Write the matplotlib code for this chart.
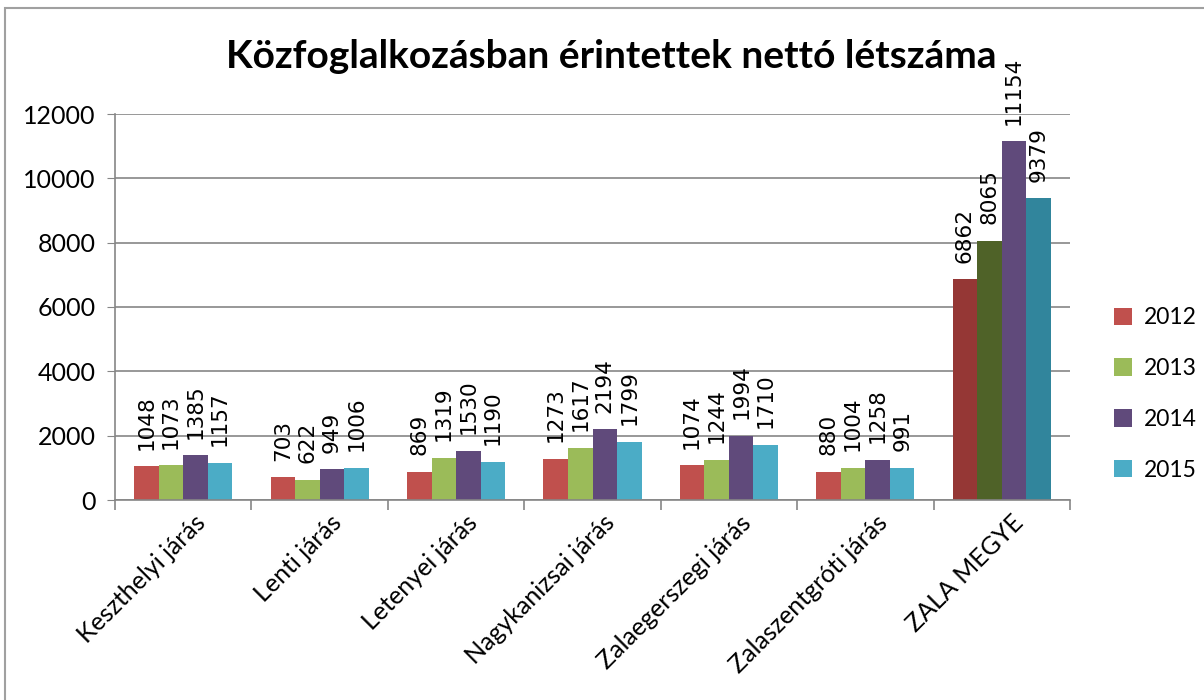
import matplotlib
matplotlib.use("Agg")
import matplotlib.pyplot as plt
from matplotlib.patches import Rectangle
import matplotlib.transforms as mtransforms
import numpy as np

categories = ["Keszthelyi járás", "Lenti járás", "Letenyei járás", "Nagykanizsai járás",
              "Zalaegerszegi járás", "Zalaszentgróti járás", "ZALA MEGYE"]
years = ["2012", "2013", "2014", "2015"]
v2012 = [1048, 703, 869, 1273, 1074, 880, 6862]
v2013 = [1073, 622, 1319, 1617, 1244, 1004, 8065]
v2014 = [1385, 949, 1530, 2194, 1994, 1258, 11154]
v2015 = [1157, 1006, 1190, 1799, 1710, 991, 9379]
series = [v2012, v2013, v2014, v2015]

colors = ["#C0504D", "#9BBB59", "#604A7B", "#4BACC6"]
dark_colors = ["#953735", "#4F6228", "#604A7B", "#31859C"]

fig = plt.figure(figsize=(12.04, 7.0), dpi=100)
fig.patches.append(Rectangle((5/1204, -0.01), 1.1, 1 - 8/700 + 0.01, transform=fig.transFigure,
                             fill=False, edgecolor="#A0A0A0", linewidth=1.5))
ax = fig.add_axes([115/1204, 200/700, 955/1204, 386/700])

x = np.arange(len(categories))
w = 0.18
font = "Lato"
for i, vals in enumerate(series):
    pos = x + (i - 1.5) * w
    cols = [colors[i]] * (len(categories) - 1) + [dark_colors[i]]
    ax.bar(pos, vals, width=w, color=cols, label=years[i], zorder=2)
    for px, v in zip(pos, vals):
        ax.annotate(str(v), (px, v), xytext=(0, 12), textcoords="offset points",
                    rotation=90, ha="center", va="bottom", fontsize=15.5,
                    family="DejaVu Sans", annotation_clip=False)

ax.set_xlim(-0.5, len(categories) - 0.5)
ax.set_ylim(0, 12000)
ax.set_yticks(range(0, 12001, 2000))
ax.tick_params(axis="y", labelsize=18, length=6, color="#868686", direction="out", pad=8)
for lab in ax.get_yticklabels():
    lab.set_family(font)
ax.yaxis.grid(True, color="#868686", linewidth=1.2, zorder=0)
ax.set_axisbelow(True)

ax.set_xticks(x)
ax.set_xticklabels(categories, rotation=45, ha="right", rotation_mode="anchor",
                   fontsize=18, family=font)
ax.tick_params(axis="x", length=0, pad=8)
shift = mtransforms.ScaledTranslation(10/100, 0, fig.dpi_scale_trans)
for lab in ax.get_xticklabels():
    lab.set_transform(lab.get_transform() + shift)
ax.set_xticks(np.arange(-0.5, len(categories)), minor=True)
ax.tick_params(axis="x", which="minor", length=7, color="#868686", width=1.2)

for s in ["top", "right"]:
    ax.spines[s].set_visible(False)
for s in ["left", "bottom"]:
    ax.spines[s].set_color("#868686")
    ax.spines[s].set_linewidth(1.2)

fig.text(611/1204, 1 - 56/700, "Közfoglalkozásban érintettek nettó létszáma",
         ha="center", va="center", fontsize=28, fontweight="bold", family=font)

fig.legend(loc="center left", bbox_to_anchor=(1093/1204, 1 - 394/700), frameon=False,
           prop={"family": font, "size": 16.5}, handlelength=0.8, handleheight=0.8,
           labelspacing=1.3, handletextpad=0.5)

fig.savefig("out.png", dpi=100)
